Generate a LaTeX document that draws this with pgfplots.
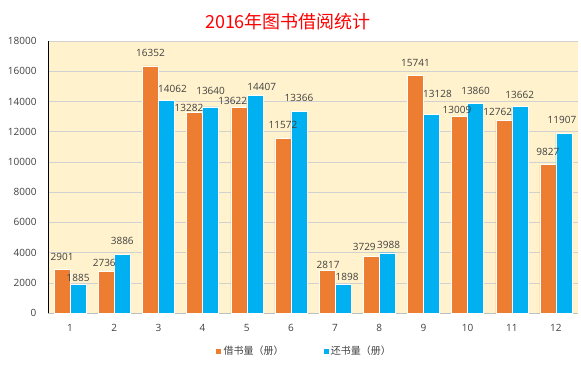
\documentclass[border=0pt]{standalone}
\usepackage{fontspec}
\setmainfont{Open Sans}
\newfontfamily\cjk{Noto Sans CJK SC}
\usepackage{pgfplots}
\usepackage{pgfplotstable}
\pgfplotsset{compat=1.18}
\definecolor{borrow}{HTML}{ED7D31}
\definecolor{ret}{HTML}{00B0F0}
\definecolor{bg}{HTML}{FFF2CC}
\definecolor{txt}{HTML}{404040}
\pgfplotstableread{
x y dx off
1 2901 0 12
2 2736 -2 8.7
3 16352 0 12.6
4 13282 -5.6 4.6
5 13622 -6 6
6 11572 0 13
7 2817 1 5.4
8 3729 -7 9.9
9 15741 0 12
10 13009 -2.6 6.4
11 12762 -6 7.8
12 9827 0 13
}\borrowtab
\pgfplotstableread{
x y dx off
1 1885 0 6.5
2 3886 0 13
3 14062 6 12
4 13640 0 16
5 14407 7 8.6
6 13366 0 13
7 1898 4 7.6
8 3988 1.4 7.7
9 13128 6 21
10 13860 0 12.6
11 13662 0 12
12 11907 -2 13
}\returntab
\begin{document}
\begin{tikzpicture}[x=1pt,y=1pt]
\useasboundingbox (-48,-52) rectangle (533,313);
\begin{axis}[
  at={(0,0)}, anchor=south west,
  scale only axis, width=530pt, height=272pt,
  ymin=0, ymax=18000, ytick distance=2000,
  xmin=0.5, xmax=12.5, xtick={1,...,12},
  axis background/.style={fill=bg},
  ymajorgrids, grid style={draw=black!18},
  axis x line*=bottom, axis y line=none,
  x axis line style={draw=black!25},
  major tick length=0pt,
  hide y axis=false,
  ybar, bar width=16pt,
  tick label style={font=\fontsize{10}{11}\selectfont, text=txt},
  yticklabel style={xshift=-8pt},
  xticklabel style={yshift=-8pt},
  scaled y ticks=false,
  /pgf/number format/assume math mode=true,
  yticklabel={\pgfmathprintnumber[fixed,precision=0,1000 sep={}]{\tick}},
  nodes near coords,
  visualization depends on={\thisrow{dx} \as \dx},
  visualization depends on={\thisrow{off} \as \off},
  every node near coord/.append style={font=\fontsize{10}{11}\selectfont, text=txt, inner sep=0pt, anchor=center, xshift=\dx pt, yshift=\off pt, /pgf/number format/1000 sep={}},
  legend style={at={(0.5,-0.105)}, xshift=-9pt, anchor=north, draw=none, fill=none, legend columns=2, font=\cjk\fontsize{10}{11}\selectfont, text=txt, /tikz/every even column/.append style={column sep=37pt}},
  legend image code/.code={\fill[#1] (0pt,-3pt) rectangle (6pt,3pt);},
]
\addplot+[ybar, bar shift=-8pt, fill=borrow, draw=white, line width=0.4pt] table[x=x,y=y] {\borrowtab};
\addplot+[ybar, bar shift=8pt, fill=ret, draw=white, line width=0.4pt] table[x=x,y=y] {\returntab};
\legend{借书量（册）,还书量（册）}
\end{axis}
\node[font=\cjk\fontsize{18}{20}\selectfont, text=red] at (240,291) {2016年图书借阅统计};
\end{tikzpicture}
\end{document}
